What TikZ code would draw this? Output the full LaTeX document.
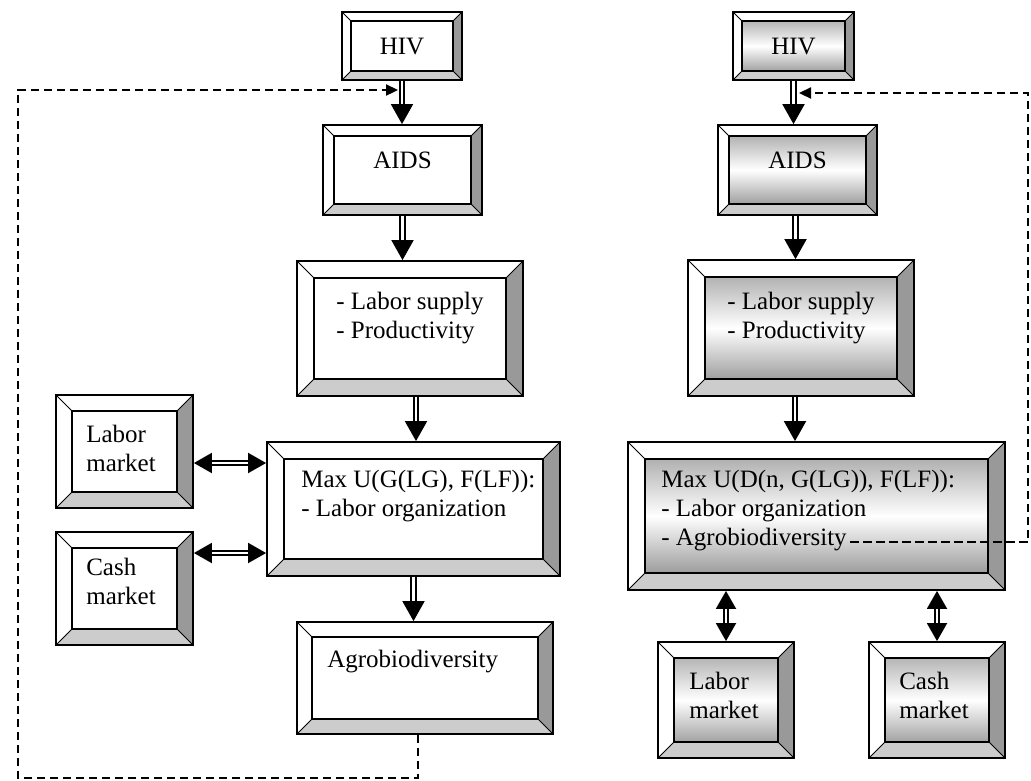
\documentclass[tikz,border=0pt]{standalone}
\usepackage{fontspec}
\setmainfont{Liberation Serif}
\usetikzlibrary{arrows.meta,positioning}

\definecolor{sidegray}{gray}{0.6}
\definecolor{basegray}{gray}{0.8}

\tikzset{
  bevelbox/.style={draw, line width=1.8pt, inner sep=0pt,
    path picture={
      \coordinate (pnw) at (path picture bounding box.north west);
      \coordinate (pne) at (path picture bounding box.north east);
      \coordinate (psw) at (path picture bounding box.south west);
      \coordinate (pse) at (path picture bounding box.south east);
      \coordinate (qnw) at ([shift={(#1pt,-#1pt)}]pnw);
      \coordinate (qne) at ([shift={(-#1pt,-#1pt)}]pne);
      \coordinate (qsw) at ([shift={(#1pt,#1pt)}]psw);
      \coordinate (qse) at ([shift={(-#1pt,#1pt)}]pse);
      \fill[white] (pnw) -- (pne) -- (qne) -- (qnw) -- cycle;
      \fill[white] (pnw) -- (qnw) -- (qsw) -- (psw) -- cycle;
      \fill[sidegray] (pne) -- (pse) -- (qse) -- (qne) -- cycle;
      \fill[basegray] (psw) -- (pse) -- (qse) -- (qsw) -- cycle;
      \draw[line width=0.9pt] (pnw) -- (qnw) (pne) -- (qne) (psw) -- (qsw) (pse) -- (qse);
      \draw[line width=1.7pt] (qnw) rectangle (qse);
    }},
  plainbox/.style={bevelbox=#1, fill=white},
  greybox/.style={bevelbox=#1, top color=black!40, bottom color=black!50, middle color=white},
  txt/.style={inner sep=0pt, align=left},
  flow/.style={double, double distance=2.6pt, line width=1.9pt,
    -{Triangle[length=20pt,width=22pt]}},
  twoway/.style={double, double distance=2.6pt, line width=1.9pt,
    {Triangle[length=18pt,width=20pt]}-{Triangle[length=18pt,width=20pt]}},
  fb/.style={line width=2.3pt, dash pattern=on 8.5pt off 4.5pt,
    -{Triangle[length=12pt,width=11pt]}}
}

\begin{document}
\begin{tikzpicture}[x=1pt, y=-1pt, font=\fontsize{25}{29}\selectfont]
\useasboundingbox (0,0) rectangle (1031,780);

% household without agrobiodiversity in the objective
\node[plainbox=9, minimum width=120pt, minimum height=68pt] (hivL) at (402,46) {HIV};
\node[plainbox=11, minimum width=159pt, minimum height=90pt] (aidsL) at (402.5,170) {};
\node[txt] (aidsLt) at ([yshift=10pt]aidsL) {AIDS};
\node[plainbox=17, minimum width=226pt, minimum height=135pt] (labL) at (410,328.5) {};
\node[txt, anchor=north west] (labLt) at ([shift={(40pt,-32pt)}]labL.north west) {- Labor supply\\- Productivity};
\node[plainbox=17, minimum width=293pt, minimum height=134pt] (maxL) at (413.5,509) {};
\node[txt, anchor=north west] (maxLt) at ([shift={(35pt,-29pt)}]maxL.north west) {Max U(G(LG), F(LF)):\\- Labor organization};
\node[plainbox=15, minimum width=256pt, minimum height=112pt] (agroL) at (425,678) {};
\node[txt, anchor=north west] (agroLt) at ([shift={(31pt,-29pt)}]agroL.north west) {Agrobiodiversity};
\node[plainbox=16, minimum width=137pt, minimum height=113pt] (lmL) at (124.5,451.5) {};
\node[txt, anchor=north west] (lmLt) at ([shift={(31pt,-31pt)}]lmL.north west) {Labor\\market};
\node[plainbox=16, minimum width=137pt, minimum height=113pt] (cmL) at (124.5,588.5) {};
\node[txt, anchor=north west] (cmLt) at ([shift={(31pt,-27pt)}]cmL.north west) {Cash\\market};

% household with agrobiodiversity in the objective
\node[greybox=9, minimum width=121pt, minimum height=68pt] (hivR) at (793.5,46) {HIV};
\node[greybox=11, minimum width=159pt, minimum height=90pt] (aidsR) at (797.5,170) {};
\node[txt] (aidsRt) at ([yshift=10pt]aidsR) {AIDS};
\node[greybox=17, minimum width=226pt, minimum height=136pt] (labR) at (801,328) {};
\node[txt, anchor=north west] (labRt) at ([shift={(40pt,-33pt)}]labR.north west) {- Labor supply\\- Productivity};
\node[greybox=17, minimum width=377pt, minimum height=148pt] (maxR) at (816.5,516) {};
\node[txt, anchor=north west] (maxRt) at ([shift={(34pt,-29pt)}]maxR.north west) {Max U(D(n, G(LG)), F(LF)):\\- Labor organization\\- Agrobiodiversity};
\node[greybox=16, minimum width=136pt, minimum height=116pt] (lmR) at (726,700) {};
\node[txt, anchor=north west] (lmRt) at ([shift={(32pt,-31pt)}]lmR.north west) {Labor\\market};
\node[greybox=16, minimum width=136pt, minimum height=116pt] (cmR) at (937,700) {};
\node[txt, anchor=north west] (cmRt) at ([shift={(31pt,-31pt)}]cmR.north west) {Cash\\market};

% helper points
\coordinate (labLout) at ([xshift=6pt]labL.south);
\coordinate (aidsRout) at ([xshift=-2pt]aidsR.south);
\coordinate (labRout) at ([xshift=-6pt]labR.south);
\coordinate (lmLin) at ([yshift=46pt]maxL.west);
\coordinate (cmLin) at ([yshift=-44pt]maxL.west);
\coordinate (fbLa) at ([xshift=-7pt]agroL.south);
\coordinate (fbLb) at (18,778);
\coordinate (fbLc) at (398,90);
\coordinate (fbRa) at (850,542);
\coordinate (fbRb) at (1028,93);
\coordinate (fbRc) at (799,93);

% flows
\draw[flow] (hivL) -- (hivL.south |- aidsL.north);
\draw[flow] (aidsL) -- (aidsL.south |- labL.north);
\draw[flow] (labLout) -- (labLout |- maxL.north);
\draw[flow] (maxL.south) -- (maxL.south |- agroL.north);
\draw[twoway] (lmLin -| lmL.east) -- (lmLin);
\draw[twoway] (cmLin -| cmL.east) -- (cmLin);

\draw[flow] (hivR) -- (hivR.south |- aidsR.north);
\draw[flow] (aidsRout) -- (aidsRout |- labR.north);
\draw[flow] (labRout) -- (labRout |- maxR.north);
\draw[twoway] (maxR.south -| lmR.north) -- (lmR.north);
\draw[twoway] (maxR.south -| cmR.north) -- (cmR.north);

% feedback
\draw[fb] (fbLa) |- (fbLb) |- (fbLc);
\draw[fb] (fbRa) -| (fbRb) -- (fbRc);
\end{tikzpicture}
\end{document}
